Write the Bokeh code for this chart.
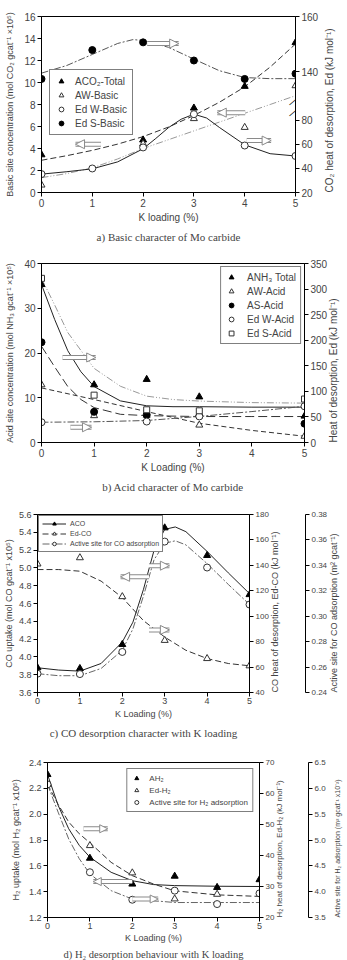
from math import pi
from bokeh.plotting import figure
from bokeh.models import (Range1d, LinearAxis, FixedTicker, Legend, LegendItem,
                          Arrow, NormalHead, Label, Title, PrintfTickFormatter)
from bokeh.embed import file_html
from bokeh.resources import INLINE

K = [0, 1, 2, 3, 4, 5]
x_ticks = [0, 1, 2, 3, 4, 5]

# ---------------- panel a data ----------------
a_aco2_x = [0, 2, 3, 4, 5]
a_aco2 = [3.43, 4.78, 7.68, 9.65, 13.63]
a_aw_x = [0, 2, 3, 4, 5]
a_aw = [0.68, 4.42, 6.72, 5.92, 9.71]
a_edw = [35.3, 40.0, 57.5, 85.2, 59.1, 50.4]
a_eds = [137.3, 147.8, 150.6, 144.0, 137.3, 139.2]
a_fit_x = [0, 0.5, 1, 1.5, 2, 2.5, 3, 3.5, 4, 4.5, 5]
a_fit_aco2 = [2.93, 3.35, 3.83, 4.4, 5.08, 5.95, 7.0, 8.2, 9.6, 11.4, 13.5]
a_fit_aw = [1.35, 1.72, 2.24, 3.05, 4.0, 4.8, 5.6, 6.4, 7.2, 8.0, 8.8]
a_fit_edw_x = [0, 0.5, 1, 1.5, 2, 2.25, 2.5, 2.75, 3, 3.25, 3.5, 4, 4.5, 5]
a_fit_edw = [35.3, 37.3, 39.7, 45.5, 56.4, 65.0, 74.0, 81.0, 85.2, 82.0, 74.2, 59.7, 52.3, 50.4]
a_fit_eds_x = [0, 0.5, 1, 1.5, 1.8, 2, 2.5, 3, 3.5, 4, 4.5, 5]
a_fit_eds = [139.4, 142.2, 146.2, 150.2, 151.6, 151.3, 148.8, 144.5, 140.3, 137.8, 137.4, 137.4]
a_left_ticks = [0, 2, 4, 6, 8, 10, 12, 14, 16]
a_right_low_ticks = [20, 40, 60, 80]
a_right_high_ticks = [140, 160]

# ---------------- panel b data ----------------
b_anh3_x = [0, 1, 2, 3, 5]
b_anh3 = [35.3, 12.9, 14.1, 10.2, 5.9]
b_aw_x = [0, 1, 2, 3, 5]
b_aw = [12.9, 6.0, 6.1, 3.9, 1.4]
b_as_x = [0, 1, 2, 3, 5]
b_as = [22.4, 6.86, 6.2, 5.9, 4.2]
b_edw_x = [0, 2, 3, 5]
b_edw = [39.6, 41.0, 51.0, 70.8]
b_eds_x = [0, 1, 2, 3, 5]
b_eds = [321, 92.6, 64, 62, 85]
b_fit_x = [0, 0.25, 0.5, 0.75, 1, 1.5, 2, 2.5, 3, 4, 5]
b_fit_anh3 = [35.3, 27.5, 20.5, 15.8, 12.5, 9.3, 8.2, 8.0, 8.0, 7.9, 7.9]
b_fit_eds = [321, 269, 215, 180, 145, 110, 90.6, 84, 81, 78, 77]
b_fit_as = [21.5, 16.9, 12.5, 9.6, 7.8, 6.3, 6.0, 5.9, 5.8, 5.8, 5.8]
b_fit_aw_x = [0, 1, 2, 3, 4, 5]
b_fit_aw = [12.2, 9.6, 6.9, 4.3, 2.7, 1.4]
b_fit_edw = [39.6, 40.5, 43.0, 51.0, 60.5, 70.8]
b_left_ticks = [0, 10, 20, 30, 40]
b_right_ticks = [0, 50, 100, 150, 200, 250, 300, 350]

# ---------------- panel c data ----------------
c_aco = [3.878, 3.87, 4.14, 5.45, 5.14, 4.70]
c_ed = [141.1, 146.0, 115.4, 81.0, 66.7, 61.0]
c_site = [0.2548, 0.2545, 0.2719, 0.3587, 0.3383, 0.3092]
c_fit_x = [0, 0.5, 1, 1.5, 2, 2.25, 2.5, 2.75, 3, 3.25, 3.5, 4, 4.5, 5]
c_fit_aco = [3.878, 3.852, 3.84, 3.926, 4.167, 4.39, 4.76, 5.20, 5.433, 5.46, 5.407, 5.185, 4.944, 4.711]
c_fit_site = [0.2548, 0.2532, 0.2532, 0.2589, 0.2732, 0.290, 0.316, 0.3445, 0.3574, 0.3593, 0.3561, 0.3414, 0.325, 0.3092]
c_fit_ed_x = [0, 0.5, 1, 1.5, 2, 2.5, 3, 3.5, 4, 4.5, 5]
c_fit_ed = [136.7, 136.7, 135.4, 127.6, 114.7, 96.5, 83.6, 73.2, 66.7, 62.8, 61.0]
c_left_ticks = [3.6, 3.8, 4.0, 4.2, 4.4, 4.6, 4.8, 5.0, 5.2, 5.4, 5.6]
c_r1_ticks = [40, 60, 80, 100, 120, 140, 160, 180]
c_r2_ticks = [0.24, 0.26, 0.28, 0.30, 0.32, 0.34, 0.36, 0.38]

# ---------------- panel d data ----------------
d_ah2 = [2.307, 1.659, 1.459, 1.52, 1.433, 1.493]
d_ed_x = [0, 1, 2, 3, 4]
d_ed = [63.0, 43.2, 34.4, 26.0, 27.5]
d_site = [6.076, 4.376, 3.844, 4.02, 3.76, 3.967]
d_fit_x = [0, 0.25, 0.5, 0.75, 1, 1.5, 2, 2.5, 3, 4, 5]
d_fit_ah2 = [2.307, 2.069, 1.887, 1.758, 1.667, 1.55, 1.485, 1.455, 1.447, 1.442, 1.44]
d_fit_ed = [63.0, 56.5, 50.8, 47.0, 44.1, 37.8, 33.5, 30.8, 28.6, 27.3, 26.8]
d_fit_site = [6.076, 5.54, 5.02, 4.636, 4.344, 4.02, 3.857, 3.825, 3.79, 3.79, 3.79]
d_left_ticks = [1.2, 1.4, 1.6, 1.8, 2.0, 2.2, 2.4]
d_r1_ticks = [20, 30, 40, 50, 60, 70]
d_r2_ticks = [3.5, 4.0, 4.5, 5.0, 5.5, 6.0, 6.5]

SANS = "Liberation Sans"
SERIF = "Liberation Serif"
GRAY = "#8a8a8a"
W = 347


def base_fig(yr, h, left, right, top, bottom):
    p = figure(width=W, height=h, x_range=Range1d(0, 5), y_range=yr,
               output_backend="svg", toolbar_location=None,
               min_border_left=left, min_border_right=right,
               min_border_top=top, min_border_bottom=bottom)
    p.grid.visible = False
    p.outline_line_color = "black"
    p.background_fill_color = "white"
    p.border_fill_color = "white"
    return p


def style_axis(ax, label, ticks, tick_px, label_px, lstand=3, mstand=2, fmt=None, right=False):
    ax.axis_label = label
    ax.ticker = FixedTicker(ticks=ticks)
    if fmt is not None:
        ax.formatter = PrintfTickFormatter(format=fmt)
    ax.minor_tick_line_color = None
    ax.major_tick_in = 0
    ax.major_tick_out = 4
    ax.major_label_standoff = mstand
    ax.axis_label_standoff = lstand
    ax.major_label_text_font = SANS
    ax.major_label_text_font_size = f"{tick_px}px"
    ax.axis_label_text_font = SANS
    ax.axis_label_text_font_size = f"{label_px}px"
    ax.axis_label_text_font_style = "normal"
    ax.axis_line_color = "black"
    if right:
        # read bottom-to-top, starting near the bottom of the frame
        ax.axis_label_orientation = pi / 2
        ax.axis_label_align = "start"


def add_caption(p, text, px=11, offset=0, standoff=6):
    p.add_layout(Title(text=text, align="center", text_font=SERIF, offset=offset,
                       standoff=standoff, text_font_size=f"{px}px",
                       text_font_style="normal"), "below")


def hollow_arrow(p, xs, xe, y, size=9):
    kw = dict(x_start=xs, x_end=xe, y_start=y, y_end=y)
    p.add_layout(Arrow(end=None, line_color=GRAY, line_width=5, **kw))
    p.add_layout(Arrow(end=None, line_color="white", line_width=3, **kw))
    p.add_layout(Arrow(line_alpha=0, end=NormalHead(size=size, fill_color="white",
                                                    line_color=GRAY, line_width=1), **kw))


def make_legend(items, loc, margin, font_px, gw, gh, lh, spacing, padding, standoff):
    return Legend(items=items, location=loc, label_text_font=SANS,
                  label_text_font_size=f"{font_px}px", glyph_width=gw, glyph_height=gh,
                  label_height=lh, spacing=spacing, padding=padding, margin=margin,
                  label_standoff=standoff, border_line_color="black",
                  background_fill_alpha=1.0)


# ======================= panel a =======================
pa = base_fig(Range1d(0, 16), 245, 41, 52, 16, 51)
low_start, low_end = 20, 166.5
high_start, high_end = 96, 160
pa.extra_y_ranges = {"low": Range1d(low_start, low_end), "high": Range1d(high_start, high_end)}
style_axis(pa.xaxis[0], "K loading (%)", x_ticks, 10, 10, lstand=2, mstand=2)
style_axis(pa.yaxis[0], "Basic site concentration (mol CO\u2082 gcat\u207b\u00b9 \u00d710\u2075)",
           a_left_ticks, 10, 9, lstand=6)
mapped = [low_start + (t - high_start) / (high_end - high_start) * (low_end - low_start)
          for t in a_right_high_ticks]
ra = LinearAxis(y_range_name="low")
style_axis(ra, "CO\u2082 heat of desorption, Ed (kJ mol\u207b\u00b9)", a_right_low_ticks + mapped,
           10, 10, lstand=8, right=True)
ra.major_label_overrides = {m: str(t) for m, t in zip(mapped, a_right_high_ticks)}
pa.add_layout(ra, "right")

pa.line(a_fit_eds_x, a_fit_eds, y_range_name="high", color="#555", line_dash="7 2 2 2", line_width=1)
pa.line(a_fit_x, a_fit_aco2, color="#333", line_dash="6 3", line_width=1)
pa.line(a_fit_x, a_fit_aw, color="#999", line_dash="7 2 1 2 1 2", line_width=1)
pa.line(a_fit_edw_x, a_fit_edw, y_range_name="low", color="#222", line_width=1)
r_a1 = pa.scatter(a_aco2_x, a_aco2, marker="triangle", size=7, fill_color="black", line_color="black")
r_a2 = pa.scatter(a_aw_x, a_aw, marker="triangle", size=7, fill_color="white", line_color="#333")
r_a3 = pa.scatter(K, a_edw, y_range_name="low", marker="circle", size=7, fill_color="white", line_color="#333")
r_a4 = pa.scatter(K, a_eds, y_range_name="high", marker="circle", size=7, fill_color="black", line_color="black")
hollow_arrow(pa, 1.17, 0.67, 4.39)
hollow_arrow(pa, 4.01, 3.46, 7.26)
hollow_arrow(pa, 4.04, 4.52, 4.72)
hollow_arrow(pa, 2.08, 2.70, 13.54)
for yy in (7.3, 8.3):
    pa.add_layout(Label(x=5, y=yy, x_offset=-3, text="\u2014", angle=0.7, text_font_size="10px",
                        text_align="center", text_baseline="middle", text_color="black"))
pa.add_layout(make_legend([LegendItem(label="ACO\u2082-Total", renderers=[r_a1]),
                           LegendItem(label="AW-Basic", renderers=[r_a2]),
                           LegendItem(label="Ed W-Basic", renderers=[r_a3]),
                           LegendItem(label="Ed S-Basic", renderers=[r_a4])],
                          (8, 57), 0, 10, 12, 12, 12, 2, 5, 8))
add_caption(pa, "a) Basic character of Mo carbide", 11, offset=9, standoff=6)

# ======================= panel b =======================
pb = base_fig(Range1d(0, 40), 250, 41, 42, 18, 49)
pb.extra_y_ranges = {"r": Range1d(0, 350)}
style_axis(pb.xaxis[0], "K Loading (%)", x_ticks, 10, 10, lstand=2, mstand=2)
style_axis(pb.yaxis[0], "Acid site concentration (mol NH\u2083 gcat\u207b\u00b9 \u00d710\u2075)",
           b_left_ticks, 10, 9, lstand=6)
rb = LinearAxis(y_range_name="r")
style_axis(rb, "Heat of desorption, Ed (kJ mol\u207b\u00b9)", b_right_ticks, 10, 10, lstand=3, right=True)
pb.add_layout(rb, "right")

pb.line(b_fit_x, b_fit_eds, y_range_name="r", color="#999", line_dash="7 2 1 2 1 2")
pb.line(b_fit_x, b_fit_anh3, color="#222")
pb.line(b_fit_x, b_fit_as, color="#333", line_dash="9 4")
pb.line(b_fit_aw_x, b_fit_aw, color="#333", line_dash="5 3")
pb.line(b_fit_aw_x, b_fit_edw, y_range_name="r", color="#555", line_dash="7 2 2 2")
r_b1 = pb.scatter(b_anh3_x, b_anh3, marker="triangle", size=7, fill_color="black", line_color="black")
r_b2 = pb.scatter(b_aw_x, b_aw, marker="triangle", size=7, fill_color="white", line_color="#333")
r_b3 = pb.scatter(b_as_x, b_as, marker="circle", size=7, fill_color="black", line_color="black")
r_b4 = pb.scatter(b_edw_x, b_edw, y_range_name="r", marker="circle", size=7, fill_color="white", line_color="#333")
r_b5 = pb.scatter(b_eds_x, b_eds, y_range_name="r", marker="square", size=6, fill_color="white", line_color="#333")
hollow_arrow(pb, 0.4, 1.03, 19.0)
hollow_arrow(pb, 0.55, 0.95, 3.4)
pb.add_layout(make_legend([LegendItem(label="ANH\u2083 Total", renderers=[r_b1]),
                           LegendItem(label="AW-Acid", renderers=[r_b2]),
                           LegendItem(label="AS-Acid", renderers=[r_b3]),
                           LegendItem(label="Ed W-Acid", renderers=[r_b4]),
                           LegendItem(label="Ed S-Acid", renderers=[r_b5])],
                          "top_right", 3, 10, 12, 12, 12, 2, 4, 10))
add_caption(pb, "b) Acid character of Mo carbide", 11, offset=13, standoff=6)

# ======================= panel c =======================
pc = base_fig(Range1d(3.6, 5.6), 247, 37, 85, 19, 48)
pc.extra_y_ranges = {"r1": Range1d(40, 180), "r2": Range1d(0.24, 0.38)}
style_axis(pc.xaxis[0], "K Loading (%)", x_ticks, 9, 9, lstand=2, mstand=1)
style_axis(pc.yaxis[0], "CO uptake (mol CO gcat\u207b\u00b9 x10\u2075)", c_left_ticks, 9, 9,
           lstand=2, fmt="%.1f")
rc1 = LinearAxis(y_range_name="r1")
# trailing empty line keeps the gap between the two right-hand axes
style_axis(rc1, "CO heat of desorption, Ed-CO (kJ mol\u207b\u00b9)\n", c_r1_ticks, 8, 9, lstand=9, right=True)
pc.add_layout(rc1, "right")
rc2 = LinearAxis(y_range_name="r2")
style_axis(rc2, "Active site for CO adsorption (m\u00b2 gcat\u207b\u00b9)", c_r2_ticks, 8, 9,
           lstand=4, fmt="%.2f", right=True)
pc.add_layout(rc2, "right")

l_c1 = pc.line(c_fit_x, c_fit_aco, color="#222")
l_c2 = pc.line(c_fit_ed_x, c_fit_ed, y_range_name="r1", color="#333", line_dash="6 3")
l_c3 = pc.line(c_fit_x, c_fit_site, y_range_name="r2", color="#666", line_dash="7 2 2 2")
r_c1 = pc.scatter(K, c_aco, marker="triangle", size=7, fill_color="black", line_color="black")
r_c2 = pc.scatter(K, c_ed, y_range_name="r1", marker="triangle", size=7, fill_color="white", line_color="#333")
r_c3 = pc.scatter(K, c_site, y_range_name="r2", marker="circle", size=7, fill_color="white", line_color="#333")
hollow_arrow(pc, 2.63, 1.96, 4.9)
hollow_arrow(pc, 2.63, 3.11, 5.025)
hollow_arrow(pc, 2.63, 3.11, 4.303)
pc.add_layout(make_legend([LegendItem(label="ACO", renderers=[l_c1, r_c1]),
                           LegendItem(label="Ed-CO", renderers=[l_c2, r_c2]),
                           LegendItem(label="Active site for CO adsorption", renderers=[l_c3, r_c3])],
                          "top_left", 1, 7, 24, 9, 9, 1, 3, 4))
add_caption(pc, "c) CO desorption character with K loading", 11, offset=11, standoff=7)

# ======================= panel d =======================
pd_ = base_fig(Range1d(1.2, 2.4), 218, 47, 84, 20, 43)
pd_.extra_y_ranges = {"r1": Range1d(20, 70), "r2": Range1d(3.5, 6.5)}
style_axis(pd_.xaxis[0], "K Loading (%)", x_ticks, 9, 9, lstand=1, mstand=1)
style_axis(pd_.yaxis[0], "H\u2082 uptake (mol H\u2082 gcat\u207b\u00b9 x10\u2075)", d_left_ticks, 9, 9,
           lstand=5, fmt="%.1f")
rd1 = LinearAxis(y_range_name="r1")
style_axis(rd1, "H\u2082 heat of desorption, Ed-H\u2082 (kJ mol\u207b\u00b9)\n", d_r1_ticks, 8, 8, lstand=8, right=True)
pd_.add_layout(rd1, "right")
rd2 = LinearAxis(y_range_name="r2")
style_axis(rd2, "Active site for H\u2082 adsorption (m\u00b2 gcat\u207b\u00b9 x10\u207b\u00b2)", d_r2_ticks, 8, 7,
           lstand=9, fmt="%.1f", right=True)
pd_.add_layout(rd2, "right")

pd_.line(d_fit_x, d_fit_ah2, color="#222")
pd_.line(d_fit_x, d_fit_ed, y_range_name="r1", color="#333", line_dash="6 3")
pd_.line(d_fit_x, d_fit_site, y_range_name="r2", color="#666", line_dash="7 2 2 2")
r_d1 = pd_.scatter(K, d_ah2, marker="triangle", size=7, fill_color="black", line_color="black")
r_d2 = pd_.scatter(d_ed_x, d_ed, y_range_name="r1", marker="triangle", size=7, fill_color="white", line_color="#333")
r_d3 = pd_.scatter(K, d_site, y_range_name="r2", marker="circle", size=7, fill_color="white", line_color="#333")
hollow_arrow(pd_, 0.85, 1.42, 1.887, size=8)
hollow_arrow(pd_, 2.0, 1.08, 1.478, size=8)
hollow_arrow(pd_, 2.0, 2.61, 1.343, size=8)
pd_.add_layout(make_legend([LegendItem(label="AH\u2082", renderers=[r_d1]),
                            LegendItem(label="Ed-H\u2082", renderers=[r_d2]),
                            LegendItem(label="Active site for H\u2082 adsorption", renderers=[r_d3])],
                           "top_right", 6, 8, 10, 10, 10, 2, 4, 8))
add_caption(pd_, "d) H\u2082 desorption behaviour with K loading", 10.5, offset=5, standoff=2)

# separate roots: each figure keeps its own frame geometry (no cross-figure alignment)
open("out.html", "w").write(file_html([pa, pb, pc, pd_], INLINE))
